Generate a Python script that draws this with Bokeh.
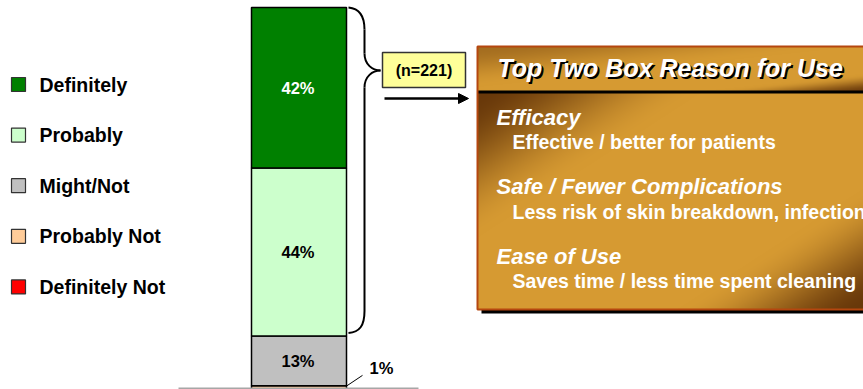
import numpy as np
from bokeh.plotting import figure
from bokeh.models import Range1d, Arrow, NormalHead, ColumnDataSource
from bokeh.core.properties import value
from bokeh.embed import file_html
from bokeh.resources import INLINE

# ---- data -------------------------------------------------------------
categories = ["Definitely", "Probably", "Might/Not", "Probably Not", "Definitely Not"]
shares = [42, 44, 13, 1, 0]
colors = ["#008000", "#CCFFCC", "#C0C0C0", "#FFCC99", "#FF0000"]
sample_label = "(n=221)"
panel_title = "Top Two Box Reason for Use"
reasons = ["Efficacy", "Safe / Fewer Complications", "Ease of Use"]
reason_details = [
    "Effective / better for patients",
    "Less risk of skin breakdown, infection",
    "Saves time / less time spent cleaning",
]

# ---- canvas -----------------------------------------------------------
W, H = 863, 389
PX_PER_PCT = 3.82
FONT = value("Liberation Sans")

p = figure(width=W, height=H, x_range=Range1d(0, W), y_range=Range1d(0, H),
           output_backend="svg", toolbar_location=None, min_border=0)
p.extra_y_ranges = {"pct": Range1d(0, H / PX_PER_PCT)}
p.axis.visible = False
p.grid.visible = False
p.outline_line_color = None
p.background_fill_color = "white"
p.border_fill_color = "white"


def top(y):
    """Convert a distance from the top edge into plot y."""
    return H - y


# ---- stacked bar ------------------------------------------------------
BAR_X, BAR_W = 298.5, 95
order = list(range(len(categories)))[::-1]          # stack from the bottom up
bottoms, tops, fills = [], [], []
acc = 0
seg = {}
for i in order:
    if shares[i] > 0:
        bottoms.append(acc)
        tops.append(acc + shares[i])
        fills.append(colors[i])
        seg[categories[i]] = (acc, acc + shares[i])
    acc += shares[i]

src = ColumnDataSource(dict(bottom=bottoms, top=tops, color=fills))
p.vbar(x=BAR_X, width=BAR_W, bottom="bottom", top="top", fill_color="color",
       line_color="black", line_width=1.5, source=src, y_range_name="pct")

# baseline rule
p.line(x=[178, 418], y=[0.3, 0.3], line_color="#A6A6A6", line_width=1.5,
       y_range_name="pct")

# value labels inside the large segments
in_x, in_y, in_t, in_c = [], [], [], []
for i, cat in enumerate(categories):
    if shares[i] >= 5:
        b, t = seg[cat]
        in_x.append(BAR_X - 1)
        in_y.append((b + t) / 2)
        in_t.append(f"{shares[i]}%")
        in_c.append("white" if i == 0 else "black")
p.text(x=in_x, y=in_y, text=in_t, text_color=in_c, text_font=FONT,
       text_font_size="16.5px", text_font_style="bold", text_align="center",
       text_baseline="middle", y_range_name="pct")

# small segment: label outside with a leader line
for i, cat in enumerate(categories):
    if 0 < shares[i] < 5:
        b, t = seg[cat]
        mid = (b + t) / 2
        p.line(x=[BAR_X + BAR_W / 2, BAR_X + BAR_W / 2 + 16], y=[mid + 0.4, mid + 3.2],
               line_color="black", line_width=1, y_range_name="pct")
        p.text(x=[BAR_X + BAR_W / 2 + 23], y=[mid + 5.0], text=[f"{shares[i]}%"],
               text_color="black", text_font=FONT, text_font_size="16.5px",
               text_font_style="bold", text_align="left", text_baseline="middle",
               y_range_name="pct")

# ---- legend -----------------------------------------------------------
for i, cat in enumerate(categories):
    yy = top(84 + i * 50.6)
    p.rect(x=[18], y=[yy], width=14, height=14, fill_color=colors[i],
           line_color="#333333", line_width=1.2)
    p.text(x=[39], y=[yy], text=[cat], text_font=FONT, text_font_size="19.5px",
           text_font_style="bold", text_color="black", text_baseline="middle")

# ---- brace over the top-two-box segments ------------------------------
b_top = H - seg["Definitely"][1] * PX_PER_PCT          # top edge of the stack (px from top)
b_bot = H - seg["Probably"][0] * PX_PER_PCT - 3         # bottom of the top two boxes
bx0, bx1, tip_x, tip_y = 348, 364, 380, 70
curves = [
    (bx0, b_top, bx1, b_top + 22, bx0 + 11, b_top + 1, bx1, b_top + 8),
    (tip_x, tip_y, bx1, tip_y - 17, tip_x - 8, tip_y, bx1, tip_y - 6),
    (tip_x, tip_y, bx1, tip_y + 17, tip_x - 8, tip_y, bx1, tip_y + 6),
    (bx1, b_bot - 22, bx0, b_bot, bx1, b_bot - 7, bx0 + 11, b_bot - 1),
]
for x0, y0, x1, y1, cx0, cy0, cx1, cy1 in curves:
    p.bezier(x0=x0, y0=top(y0), x1=x1, y1=top(y1), cx0=cx0, cy0=top(cy0),
             cx1=cx1, cy1=top(cy1), line_color="black", line_width=2)
p.line(x=[bx1, bx1], y=[top(b_top + 22), top(tip_y - 17)], line_color="black", line_width=2)
p.line(x=[bx1, bx1], y=[top(tip_y + 17), top(b_bot - 22)], line_color="black", line_width=2)

# sample size tag and arrow
p.quad(left=382, right=465, top=top(52), bottom=top(87), fill_color="#FFFF99",
       line_color="#333333", line_width=1.5)
p.text(x=[423.5], y=[top(70)], text=[sample_label], text_font=FONT,
       text_font_size="16px", text_font_style="bold", text_color="black",
       text_align="center", text_baseline="middle")
p.add_layout(Arrow(end=NormalHead(size=10, fill_color="black", line_color="black"),
                   x_start=384, y_start=top(98), x_end=468, y_end=top(98),
                   line_width=2.5, line_color="black"))

# ---- reasons panel ----------------------------------------------------
PL, PR, PT, PB, SEP = 477, 887, 46, 309, 91.5
pw, ph = PR - PL, int(PB - PT)
hh = int(SEP - PT)

gold = np.array([214, 154, 50], dtype=float)
dark = np.array([104, 56, 10], dtype=float)


def smooth(a):
    a = np.clip(a, 0, 1)
    return a * a * (3 - 2 * a)


u = np.linspace(0, 1, pw)[None, :]
shade = np.zeros((ph, pw))
vh = np.linspace(0, 1, hh)[:, None]
th = 0.5 * u + 0.5 * vh
shade[:hh] = np.maximum(0.45 * smooth(1 - th / 0.45), 0.95 * smooth((th - 0.78) / 0.2))
vb = np.linspace(0, 1, ph - hh)[:, None]
tb = 0.55 * u + 0.45 * vb
shade[hh:] = np.maximum(smooth(1 - tb / 0.3), smooth((tb - 0.72) / 0.25))

rgb = gold[None, None, :] * (1 - shade[..., None]) + dark[None, None, :] * shade[..., None]
img = np.zeros((ph, pw, 4), dtype=np.uint8)
img[..., :3] = rgb.astype(np.uint8)
img[..., 3] = 255
img = np.ascontiguousarray(np.flipud(img))
img32 = img.view(dtype=np.uint32).reshape((ph, pw))

p.quad(left=PL + 4, right=PR + 4, top=top(PT + 4), bottom=top(PB + 4),
       fill_color="black", line_color=None)
p.image_rgba(image=[img32], x=PL, y=top(PB), dw=pw, dh=ph)
p.line(x=[PL, PR], y=[top(SEP), top(SEP)], line_color="black", line_width=3)
p.quad(left=PL, right=PR, top=top(PT), bottom=top(PB), fill_color=None,
       line_color="#B5470F", line_width=2)

# title with drop shadow
p.text(x=[499], y=[top(69)], text=[panel_title], text_font=FONT, text_font_size="25px",
       text_font_style="bold italic", text_color="black", text_baseline="middle")
p.text(x=[497], y=[top(67)], text=[panel_title], text_font=FONT, text_font_size="25px",
       text_font_style="bold italic", text_color="white", text_baseline="middle")

for k, (head, detail) in enumerate(zip(reasons, reason_details)):
    mid = 116.5 + k * 69.5
    p.text(x=[496], y=[top(mid)], text=[head], text_font=FONT, text_font_size="22px",
           text_font_style="bold italic", text_color="white", text_baseline="middle")
    p.text(x=[512], y=[top(mid + 25)], text=[detail], text_font=FONT,
           text_font_size="19.5px", text_font_style="bold", text_color="white",
           text_baseline="middle")

open("out.html", "w").write(file_html(p, INLINE))
